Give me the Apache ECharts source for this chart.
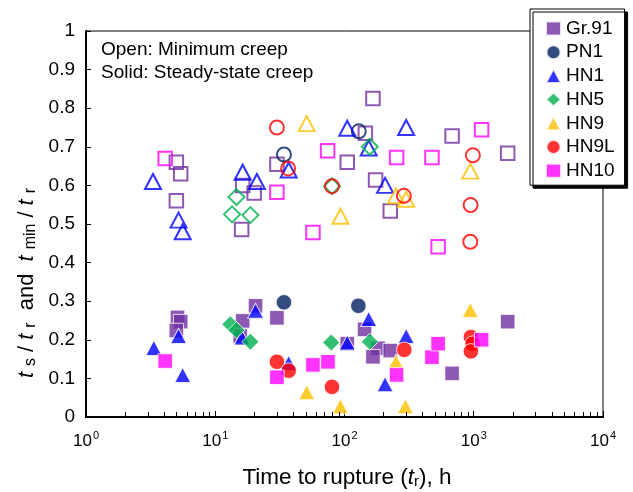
<!DOCTYPE html>
<html>
<head>
<meta charset="utf-8">
<script src="https://cdn.jsdelivr.net/npm/echarts@6/dist/echarts.min.js"></script>
<style>
html,body{margin:0;padding:0;background:#fff;}
#c{width:633px;height:492px;}
</style>
</head>
<body>
<div id="c"></div>
<script>
// ---- data: [time to rupture (h), ratio] ----
const seriesNames = ['Gr.91','PN1','HN1','HN5','HN9','HN9L','HN10'];
const seriesColors = ['#7030A0','#002060','#0000FF','#00B050','#FFC000','#FF0000','#FF00FF'];
const seriesSymbols = ['rect','circle','triangle','diamond','triangle','circle','rect'];

// Open symbols: minimum creep (t_min / t_r)
const gr91Open = [[5.0,0.66],[5.4,0.63],[5.0,0.56],[16.3,0.60],[20,0.58],[16,0.486],[30,0.655],[145,0.735],[166,0.825],[105,0.66],[174,0.614],[226,0.534],[680,0.728],[1830,0.683]];
const pn1Open = [[34,0.68],[129,0.74]];
const hn1Open = [[3.3,0.61],[5.2,0.51],[5.6,0.48],[16.3,0.634],[21,0.61],[37,0.64],[105,0.748],[154,0.697],[300,0.75],[206,0.60]];
const hn5Open = [[14.6,0.57],[13.5,0.525],[18.7,0.523],[80,0.598],[157,0.70]];
const hn9Open = [[51,0.76],[93,0.52],[250,0.573],[300,0.564],[940,0.637]];
const hn9lOpen = [[30,0.75],[36.6,0.644],[80,0.598],[288,0.573],[985,0.678],[945,0.549],[940,0.454]];
const hn10Open = [[4.1,0.67],[74,0.69],[30,0.582],[57,0.478],[253,0.672],[475,0.672],[1150,0.744],[530,0.441]];

// Solid symbols: steady-state creep (t_s / t_r)
const gr91Solid = [[5.1,0.258],[5.4,0.247],[5.0,0.224],[20.5,0.288],[16.3,0.249],[15.6,0.21],[30,0.257],[143,0.227],[105,0.19],[182,0.178],[166,0.156],[226,0.172],[1830,0.247],[680,0.113]];
const pn1Solid = [[34,0.297],[128,0.288]];
const hn1Solid = [[5.2,0.21],[3.35,0.179],[5.6,0.109],[20.5,0.275],[16.1,0.206],[154,0.254],[105,0.193],[300,0.21],[206,0.085],[37,0.14]];
const hn5Solid = [[13.1,0.24],[14.6,0.225],[18.7,0.195],[79,0.193],[157,0.195]];
const hn9Solid = [[250,0.143],[51,0.064],[93,0.028],[296,0.028],[940,0.277]];
const hn9lSolid = [[30,0.143],[37,0.12],[80,0.078],[290,0.174],[950,0.207],[980,0.19],[950,0.17]];
const hn10Solid = [[4.1,0.145],[30,0.103],[57,0.135],[74.5,0.143],[253,0.109],[475,0.155],[530,0.19],[1150,0.2]];

const openData = [gr91Open,pn1Open,hn1Open,hn5Open,hn9Open,hn9lOpen,hn10Open];
const solidData = [gr91Solid,pn1Solid,hn1Solid,hn5Solid,hn9Solid,hn9lSolid,hn10Solid];

// axis ticks
const xMin = 1, xMax = 10000;
const yMin = 0, yMax = 1, yStep = 0.1;
const xMinorTicks = [2,3,4,5,6,7,8,9,20,30,40,50,60,70,80,90,200,300,400,500,600,700,800,900,2000,3000,4000,5000,6000,7000,8000,9000];

const FONT = '"Liberation Sans", Arial, sans-serif';

const openSizes = {rect:13.5, circle:14, triangle:[16,15], diamond:16};
const solidSizes = {rect:14.5, circle:15.5, triangle:[16,15], diamond:17};

const series = [];
for (let i = 0; i < seriesNames.length; i++) {
  const sym = seriesSymbols[i];
  series.push({
    name: seriesNames[i] + ' (open)',
    type: 'scatter',
    data: openData[i],
    symbol: sym,
    symbolSize: openSizes[sym],
    itemStyle: {color: 'rgba(0,0,0,0)', borderColor: seriesColors[i], borderWidth: 2},
    emphasis: {disabled: true},
    z: 3
  });
}
for (let i = 0; i < seriesNames.length; i++) {
  const sym = seriesSymbols[i];
  series.push({
    name: seriesNames[i],
    type: 'scatter',
    data: solidData[i],
    symbol: sym,
    symbolSize: solidSizes[sym],
    itemStyle: {color: seriesColors[i], borderColor: '#fff', borderWidth: 1},
    emphasis: {disabled: true},
    z: 3
  });
}
series.push({
  type: 'custom',
  name: 'minorTicks',
  silent: true,
  clip: false,
  data: xMinorTicks.map(v => [v, yMin]),
  renderItem: function (params, api) {
    const p = api.coord([api.value(0), api.value(1)]);
    const x = Math.round(p[0]) + 0.5;
    return {type: 'line', shape: {x1: x, y1: p[1] - 1, x2: x, y2: p[1] - 5}, style: {stroke: '#000', lineWidth: 1}};
  },
  z: 4
});

const subStyle = {fontSize: 16, fontFamily: FONT, fill: '#000', padding: [7, 3, 0, 3]};
const chart = echarts.init(document.getElementById('c'), null, {renderer: 'canvas'});
chart.setOption({
  animation: false,
  backgroundColor: '#fff',
  textStyle: {fontFamily: FONT},
  grid: {left: 86, right: 30, top: 31, bottom: 75, show: true, borderColor: '#000', borderWidth: 1, backgroundColor: 'transparent', containLabel: false, outerBoundsMode: 'none'},
  xAxis: {
    type: 'log', logBase: 10, min: xMin, max: xMax,
    axisLine: {show: true, onZero: false, lineStyle: {color: '#000', width: 2}},
    axisTick: {show: true, inside: true, length: 6, lineStyle: {color: '#000', width: 1}},
    minorTick: {show: false},
    splitLine: {show: false},
    axisLabel: {
      margin: 13, color: '#000', fontFamily: FONT,
      formatter: function (v) { return '{a|10}{s|' + Math.round(Math.log10(v)) + '}'; },
      rich: {a: {fontSize: 17, fontFamily: FONT, color: '#000'}, s: {fontSize: 11, fontFamily: FONT, color: '#000', padding: [0, 0, 12, 1]}}
    }
  },
  yAxis: {
    type: 'value', min: yMin, max: yMax, interval: yStep,
    axisLine: {show: true, lineStyle: {color: '#000', width: 2}},
    axisTick: {show: true, inside: true, length: 5, lineStyle: {color: '#000', width: 1}},
    splitLine: {show: false},
    axisLabel: {margin: 11, color: '#000', fontSize: 19, fontFamily: FONT}
  },
  legend: {
    show: true,
    data: seriesNames,
    orient: 'vertical',
    left: 530, top: 9,
    padding: [10, 10, 5, 15],
    itemWidth: 15, itemHeight: 14,
    itemGap: 4.7,
    backgroundColor: '#fff',
    borderColor: '#000', borderWidth: 1,
    shadowColor: '#000', shadowBlur: 0, shadowOffsetX: 3, shadowOffsetY: 3,
    textStyle: {fontSize: 19, color: '#000', fontFamily: FONT, lineHeight: 19},
    selectedMode: false,
    z: 10
  },
  graphic: [
    {type: 'text', left: 101, top: 40, z: 5, style: {text: 'Open: Minimum creep', font: '19px ' + FONT, fill: '#000'}},
    {type: 'text', left: 101, top: 63, z: 5, style: {text: 'Solid: Steady-state creep', font: '19px ' + FONT, fill: '#000'}},
    {type: 'text', x: 347, y: 478, z: 5, style: {
      text: '{n|Time to rupture (}{i|t}{b|r}{n|), h}',
      align: 'center', verticalAlign: 'middle',
      rich: {
        n: {fontSize: 22.5, fontFamily: FONT, fill: '#000'},
        i: {fontSize: 22.5, fontFamily: FONT, fontStyle: 'italic', fill: '#000'},
        b: {fontSize: 15, fontFamily: FONT, fill: '#000', padding: [8, 0, 0, 0]}
      }
    }},
    {type: 'text', x: 27, y: 283, rotation: Math.PI / 2, z: 5, style: {
      text: '{i|t}{b|s}{n|/}{i|t}{b|r}{n| and }{i|t}{b|min}{n|/}{i|t}{b|r}',
      align: 'center', verticalAlign: 'middle',
      rich: {
        n: {fontSize: 22, fontFamily: FONT, fill: '#000', padding: [0, 3, 0, 3]},
        i: {fontSize: 22, fontFamily: FONT, fontStyle: 'italic', fill: '#000', padding: [0, 3, 0, 3]},
        b: subStyle
      }
    }}
  ],
  series: series
});
</script>
</body>
</html>
